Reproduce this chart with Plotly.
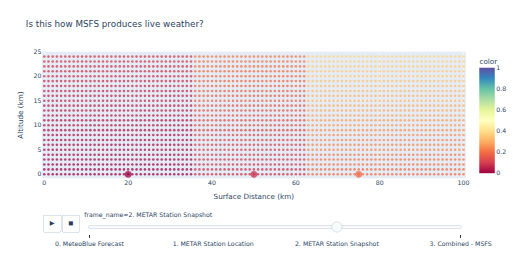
import plotly.graph_objects as go

# ---- data ----
distance_km = list(range(0, 101))          # surface distance columns
altitude_km = list(range(0, 25))           # altitude rows

station_x = [20, 50, 75]
station_y = [0, 0, 0]
station_val = [0.0, 0.08, 0.19]

# colour value by altitude row for the region nearest each station
profile_st1 = [0.0, 0.004, 0.008, 0.013, 0.017, 0.021, 0.025, 0.029, 0.033, 0.038, 0.042, 0.046, 0.05,
               0.054, 0.058, 0.063, 0.067, 0.071, 0.075, 0.079, 0.083, 0.088, 0.092, 0.096, 0.10]
profile_st2 = [0.08, 0.086, 0.092, 0.098, 0.103, 0.109, 0.115, 0.121, 0.127, 0.133, 0.138, 0.144, 0.15,
               0.156, 0.162, 0.168, 0.173, 0.179, 0.185, 0.191, 0.197, 0.203, 0.208, 0.214, 0.22]
profile_st3 = [0.19, 0.198, 0.206, 0.214, 0.222, 0.23, 0.238, 0.245, 0.253, 0.261, 0.269, 0.277, 0.285,
               0.293, 0.301, 0.309, 0.317, 0.325, 0.333, 0.341, 0.348, 0.356, 0.364, 0.372, 0.38]
profiles = [profile_st1, profile_st2, profile_st3]

frame_names = ["0. MeteoBlue Forecast", "1. METAR Station Location",
               "2. METAR Station Snapshot", "3. Combined - MSFS"]
active_frame = 2

# ---- build grid ----
gx, gy, gc = [], [], []
for a_i, alt in enumerate(altitude_km):
    for d in distance_km:
        dists = [abs(d - s) for s in station_x]
        k = dists.index(min(dists))
        gx.append(d)
        gy.append(alt)
        gc.append(profiles[k][a_i])

# figure is laid out at 1000x500 and shown scaled to the 517-px window
W, H = 1000, 500
SCALE = 517 / W

scale = "Spectral"
cb = dict(title=dict(text="color", side="top"), outlinewidth=0,
          tickvals=[0, 0.2, 0.4, 0.6, 0.8, 1], ticktext=["0", "0.2", "0.4", "0.6", "0.8", "1"])

def make_traces():
    grid = go.Scatter(x=gx, y=gy, mode="markers",
                      marker=dict(size=5, color=gc, colorscale=scale, cmin=0, cmax=1,
                                  opacity=0.75, showscale=True, colorbar=cb),
                      showlegend=False, hoverinfo="skip")
    stations = go.Scatter(x=station_x, y=station_y, mode="markers",
                          marker=dict(size=13, color=station_val, colorscale=scale, cmin=0, cmax=1,
                                      opacity=0.75, showscale=False),
                          showlegend=False)
    return [grid, stations]

fig = go.Figure(data=make_traces(),
                frames=[go.Frame(data=make_traces(), name=n) for n in frame_names])

fig.update_layout(
    width=W, height=H,
    margin=dict(l=81, r=99, t=100, b=155, autoexpand=False),
    font=dict(family="Verdana, DejaVu Sans, sans-serif"),
    title=dict(text="Is this how MSFS produces live weather?", x=0.05, xref="container",
               y=0.908, yanchor="middle"),
    xaxis=dict(title=dict(text="Surface Distance (km)"), range=[-0.58, 100.55], zeroline=False),
    yaxis=dict(title=dict(text="Altitude (km)"), range=[-0.83, 25], zeroline=False,
               tickvals=[0, 5, 10, 15, 20, 25]),
    updatemenus=[dict(
        type="buttons", direction="left", showactive=False,
        x=0.1, xanchor="right", y=0, yanchor="top", pad=dict(r=10, t=70),
        buttons=[
            dict(label="&#9654;", method="animate",
                 args=[None, {"frame": {"duration": 500, "redraw": False}, "mode": "immediate",
                              "fromcurrent": True, "transition": {"duration": 500}}]),
            dict(label="&#9724;", method="animate",
                 args=[[None], {"frame": {"duration": 0, "redraw": False}, "mode": "immediate",
                                "fromcurrent": True, "transition": {"duration": 0}}]),
        ])],
    sliders=[dict(
        active=active_frame, x=0.1, xanchor="left", y=0, yanchor="top", len=0.9,
        pad=dict(b=10, t=60),
        currentvalue=dict(prefix="frame_name="),
        steps=[dict(label=n, method="animate",
                    args=[[n], {"frame": {"duration": 0, "redraw": False}, "mode": "immediate",
                                "fromcurrent": True, "transition": {"duration": 0}}])
               for n in frame_names])],
)

post = (
    "var gd=document.getElementById('{plot_id}');"
    "gd.style.transformOrigin='0 0';"
    "gd.style.transform='scale(" + str(SCALE) + ")';"
    "document.body.style.margin='0';"
    "document.body.style.overflow='hidden';"
    "document.documentElement.style.overflow='hidden';"
)

fig.write_html("out.html", auto_play=False, post_script=post)
